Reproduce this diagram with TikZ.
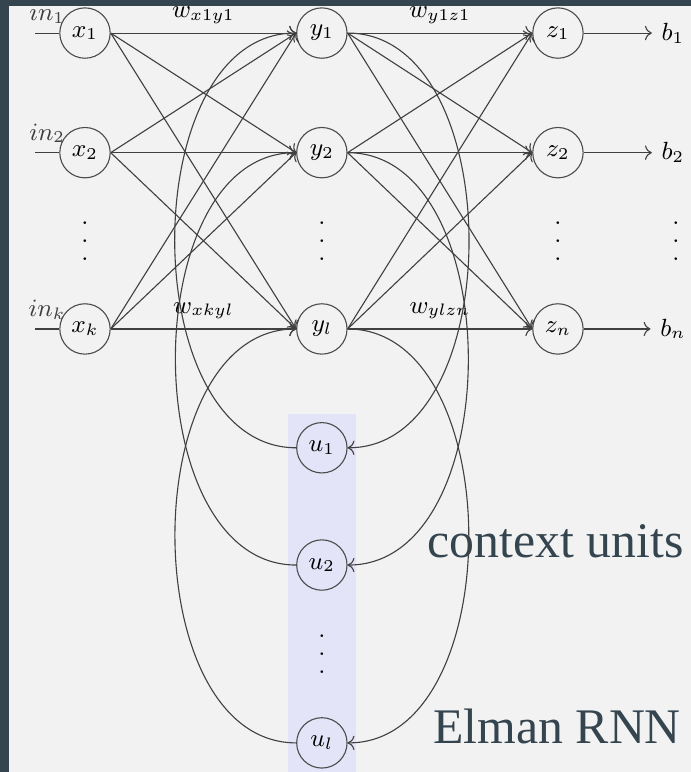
\documentclass[tikz,border=0pt]{standalone}
\usepackage{fontspec}
\usepackage{tikz}
\usetikzlibrary{arrows.meta,positioning}
\newfontfamily\capfont{Liberation Serif}
\definecolor{slate}{HTML}{34454F}
\definecolor{paper}{HTML}{F2F2F2}
\definecolor{ctxblue}{HTML}{E4E4F8}
% three dots, spaced wider than \vdots
\newcommand{\tallvdots}{\vbox{\baselineskip6.5pt\lineskiplimit0pt\hbox{.}\hbox{.}\hbox{.}}}

\begin{document}
\begin{tikzpicture}[font=\fontsize{9}{11}\selectfont,
    neuron/.style={circle,draw=black!70,minimum size=0.64cm,inner sep=0pt},
    wire/.style={->,black!75},
    caption/.style={text=slate,font=\capfont\fontsize{18}{22}\selectfont,inner sep=0pt}]
  % frame and background
  \fill[slate] (0,0) rectangle (8.78,-9.81);
  \fill[paper] (0.114,-0.076) rectangle (8.78,-9.81);
  \useasboundingbox (0,0) rectangle (8.78,-9.81);
  % context layer band
  \fill[ctxblue] (3.66,-5.26) rectangle (4.53,-9.81);
  \node[caption,anchor=base west] (ctx) at (5.43,-7.09) {context units};
  \node[caption,anchor=base west] (title) at (5.50,-9.445) {Elman RNN};

  % input layer
  \node[neuron] (x1) at (1.08,-0.42) {$x_1$};
  \node[neuron] (x2) at (1.08,-1.94) {$x_2$};
  \node (xd) at (1.08,-3.06) {\tallvdots};
  \node[neuron] (xk) at (1.08,-4.18) {$x_k$};
  % hidden layer
  \node[neuron] (y1) at (4.09,-0.42) {$y_1$};
  \node[neuron] (y2) at (4.09,-1.94) {$y_2$};
  \node (yd) at (4.09,-3.06) {\tallvdots};
  \node[neuron] (yl) at (4.09,-4.18) {$y_l$};
  % output layer
  \node[neuron] (z1) at (7.09,-0.42) {$z_1$};
  \node[neuron] (z2) at (7.09,-1.94) {$z_2$};
  \node (zd) at (7.09,-3.06) {\tallvdots};
  \node[neuron] (zn) at (7.09,-4.18) {$z_n$};
  \node (b1) at (8.55,-0.42) {$b_1$};
  \node (b2) at (8.55,-1.94) {$b_2$};
  \node (bd) at (8.59,-3.06) {\tallvdots};
  \node (bn) at (8.55,-4.18) {$b_n$};
  % context units
  \node[neuron] (u1) at (4.09,-5.69) {$u_1$};
  \node[neuron] (u2) at (4.09,-7.18) {$u_2$};
  \node (ud) at (4.09,-8.31) {\tallvdots};
  \node[neuron] (ul) at (4.09,-9.44) {$u_l$};

  % inputs
  \coordinate (in1) at (0.445,-0.42);
  \coordinate (in2) at (0.445,-1.94);
  \coordinate (ink) at (0.445,-4.18);
  \draw[black!75] (in1) -- node[above] {$in_1$} (x1);
  \draw[black!75] (in2) -- node[above] {$in_2$} (x2);
  \draw[black!75] (ink) -- node[above] {$in_k$} (xk);

  % fully connected layers
  \foreach \a in {x1,x2,xk}
    \foreach \b in {y1,y2,yl}
      \draw[wire] (\a.east) -- (\b.west);
  \foreach \a in {y1,y2,yl}
    \foreach \b in {z1,z2,zn}
      \draw[wire] (\a.east) -- (\b.west);
  \path (x1.east) -- node[above] {$w_{x1y1}$} (y1.west);
  \path (xk.east) -- node[above] {$w_{xkyl}$} (yl.west);
  \path (y1.east) -- node[above] {$w_{y1z1}$} (z1.west);
  \path (yl.east) -- node[above] {$w_{ylzn}$} (zn.west);

  % outputs
  \draw[wire] (z1) -- (b1);
  \draw[wire] (z2) -- (b2);
  \draw[wire] (zn) -- (bn);

  % copy to context units and feed back
  \foreach \h/\c in {y1/u1,y2/u2,yl/ul} {
    \draw[wire] (\h) to[out=0,in=0] (\c);
    \draw[wire] (\c) to[out=180,in=180] (\h);
  }
\end{tikzpicture}
\end{document}
